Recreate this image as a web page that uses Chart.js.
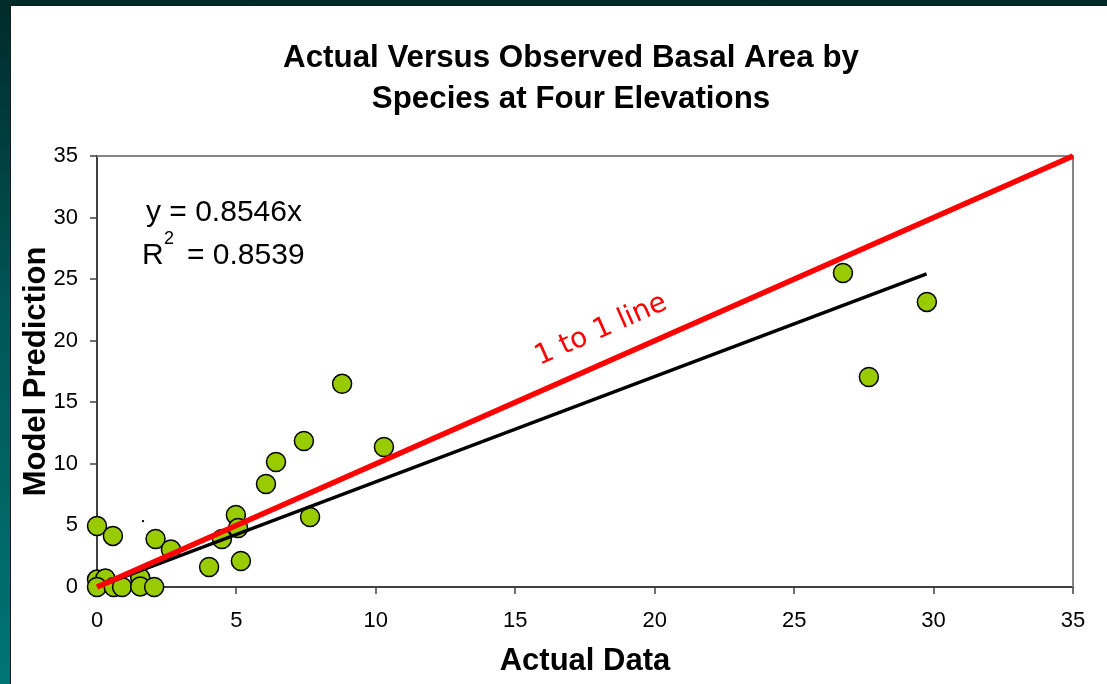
<!DOCTYPE html>
<html>
<head>
<meta charset="utf-8">
<script src="https://cdn.jsdelivr.net/npm/chart.js@4.4.1/dist/chart.umd.min.js"></script>
<style>
    html, body { margin: 0; padding: 0; }
    body {
        width: 1107px; height: 684px; overflow: hidden; position: relative;
        background: linear-gradient(180deg, #002a2a 0%, #005656 45%, #007474 100%);
    }
    #frame {
        position: absolute; left: 10px; top: 5px; right: 0; bottom: 0;
        background: #fff; border-left: 1px solid #1c1c1c; border-top: 1px solid #1c1c1c;
    }
    #wrap { position: absolute; left: 0; top: 0; width: 1107px; height: 684px; }
</style>
</head>
<body>
<div id="frame"></div>
<div id="wrap"><canvas id="basalChart" width="1107" height="684"></canvas></div>
<script>
// observed vs predicted basal area
const actualData      = [0, 0.3, 0, 0.6, 0.9, 1.55, 1.55, 2.05, 0, 0.57, 2.1, 2.65, 4.02, 4.48, 4.98, 5.06, 5.16, 6.06, 6.42, 7.42, 7.64, 8.79, 10.29, 26.75, 27.68, 29.76];
const modelPrediction = [0.6, 0.7, 0, 0, 0, 0.75, 0.05, 0, 4.95, 4.15, 3.9, 3.05, 1.62, 3.9, 5.85, 4.79, 2.11, 8.36, 10.15, 11.86, 5.68, 16.5, 11.37, 25.5, 17.05, 23.15];

// tiny stray mark left on the original plot
const strayX = [1.65];
const strayY = [5.35];

// 1:1 reference and fitted trend (y = 0.8546x) end points
const oneToOneX = [0, 35];
const oneToOneY = [0, 35];
const trendX = [0, 29.75];
const trendY = [0, 25.42];

const xTicks = [0, 5, 10, 15, 20, 25, 30, 35];
const yTicks = [0, 5, 10, 15, 20, 25, 30, 35];

const titleLines = ['Actual Versus Observed Basal Area by', 'Species at Four Elevations'];
const equationText = 'y = 0.8546x';
const rSquaredText = '0.8539';

const FONT = '"Liberation Sans", Arial, sans-serif';

const toPoints = (xs, ys) => xs.map((x, i) => ({ x: x, y: ys[i] }));

const notesPlugin = {
    id: 'notes',
    beforeDatasetsDraw(chart) {
        const { ctx, chartArea: a } = chart;
        ctx.save();
        ctx.strokeStyle = '#858585';
        ctx.lineWidth = 2;
        ctx.beginPath();
        ctx.moveTo(a.left, a.top);
        ctx.lineTo(a.right, a.top);
        ctx.lineTo(a.right, a.bottom);
        ctx.stroke();
        ctx.restore();
    },
    afterDatasetsDraw(chart) {
        const { ctx, chartArea: a, scales } = chart;
        ctx.save();
        ctx.fillStyle = '#000';
        ctx.textBaseline = 'middle';

        // chart title, centred on the white panel
        ctx.textAlign = 'center';
        ctx.font = 'bold 31.3px ' + FONT;
        titleLines.forEach((t, i) => ctx.fillText(t, 571, 58 + i * 41));

        // regression note
        ctx.textAlign = 'left';
        ctx.font = '30px ' + FONT;
        ctx.fillText(equationText, a.left + 49, a.top + 57);
        ctx.fillText('R', a.left + 45, a.top + 100);
        ctx.font = '18px ' + FONT;
        ctx.fillText('2', a.left + 67, a.top + 83);
        ctx.font = '30px ' + FONT;
        ctx.fillText('= ' + rSquaredText, a.left + 90, a.top + 100);

        // label along the red line
        const ang = Math.atan2(scales.y.getPixelForValue(0) - scales.y.getPixelForValue(35),
                               scales.x.getPixelForValue(35) - scales.x.getPixelForValue(0));
        ctx.translate(a.left + 504, a.top + 174);
        ctx.rotate(-ang);
        ctx.textAlign = 'center';
        ctx.fillStyle = '#ff0000';
        ctx.font = '28px "Comic Sans MS", "DejaVu Sans", sans-serif';
        ctx.fillText('1 to 1 line', 0, 0);
        ctx.restore();
    }
};

const ctx = document.getElementById('basalChart').getContext('2d');

new Chart(ctx, {
    type: 'scatter',
    data: {
        datasets: [
            {
                label: '1 to 1 line',
                data: toPoints(oneToOneX, oneToOneY),
                showLine: true,
                borderColor: '#ff0000',
                borderWidth: 5.5,
                pointRadius: 0,
                clip: 4
            },
            {
                label: 'Linear fit',
                data: toPoints(trendX, trendY),
                showLine: true,
                borderColor: '#000',
                borderWidth: 3.5,
                pointRadius: 0
            },
            {
                label: 'Basal area',
                data: toPoints(actualData, modelPrediction),
                backgroundColor: '#99cc00',
                borderColor: '#000',
                borderWidth: 1.5,
                pointRadius: 9.5,
                clip: false
            },
            {
                label: 'stray',
                data: toPoints(strayX, strayY),
                backgroundColor: '#000',
                borderWidth: 0,
                pointRadius: 1.2
            }
        ]
    },
    options: {
        responsive: false,
        animation: false,
        events: [],
        layout: { padding: { left: 0, right: 34, top: 156, bottom: 0 } },
        plugins: {
            legend: { display: false },
            tooltip: { enabled: false },
            title: { display: false }
        },
        scales: {
            x: {
                type: 'linear',
                min: 0,
                max: 35,
                afterBuildTicks: (s) => { s.ticks = xTicks.map(v => ({ value: v })); },
                afterFit: (s) => { s.height = 97; },
                ticks: { color: '#000', font: { family: FONT, size: 22 }, padding: 14, maxRotation: 0 },
                grid: { drawOnChartArea: false, drawTicks: true, tickLength: 7, color: '#707070', lineWidth: 2 },
                border: { color: '#404040', width: 2 },
                title: {
                    display: true,
                    text: 'Actual Data',
                    color: '#000',
                    font: { family: FONT, size: 31, weight: 'bold', lineHeight: 1.2 },
                    padding: { top: 0, bottom: 4 }
                }
            },
            y: {
                type: 'linear',
                min: 0,
                max: 35,
                afterBuildTicks: (s) => { s.ticks = yTicks.map(v => ({ value: v })); },
                afterFit: (s) => { s.width = 97; },
                ticks: { color: '#000', font: { family: FONT, size: 22 }, padding: 12 },
                grid: { drawOnChartArea: false, drawTicks: true, tickLength: 7, color: '#707070', lineWidth: 2 },
                border: { color: '#404040', width: 2 },
                title: {
                    display: true,
                    text: 'Model Prediction',
                    color: '#000',
                    font: { family: FONT, size: 31, weight: 'bold', lineHeight: 1.2 },
                    padding: { top: 18, bottom: 0 }
                }
            }
        }
    },
    plugins: [notesPlugin]
});
</script>
</body>
</html>
